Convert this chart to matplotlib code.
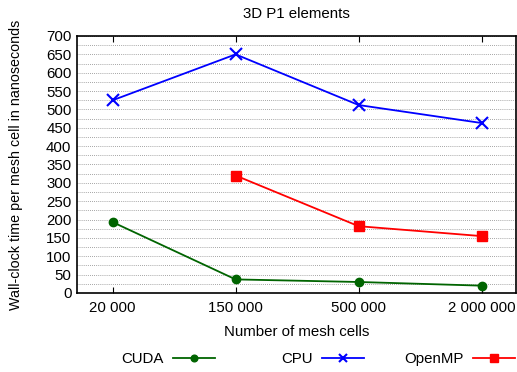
import numpy as np
import matplotlib
matplotlib.use('Agg')
import matplotlib.pyplot as plt
from matplotlib.ticker import MultipleLocator

plt.rcParams['font.family'] = ['Liberation Sans', 'DejaVu Sans']
plt.rcParams['font.size'] = 10.8

mesh_cells = ['20 000', '150 000', '500 000', '2 000 000']
cuda = [193, 37, 30, 20]
cpu = [525, 650, 512, 463]
openmp = [np.nan, 320, 182, 155]

x = np.arange(len(mesh_cells))

W, H = 517, 372
fig = plt.figure(figsize=(W / 100, H / 100), dpi=100)
ax = fig.add_axes([77 / W, 1 - 293 / H, 440 / W - 0.002, 257 / H])

l_cuda, = ax.plot(x, cuda, color='#006400', lw=1.3, marker='o', ms=6, label='CUDA')
l_cpu, = ax.plot(x, cpu, color='#0000ff', lw=1.3, marker='x', ms=8, mew=1.5, label='CPU')
l_omp, = ax.plot(x, openmp, color='#ff0000', lw=1.3, marker='s', ms=7, label='OpenMP')

ax.set_xlim(-0.29, 3.28)
ax.set_ylim(0, 700)
ax.set_xticks(x)
ax.set_xticklabels(mesh_cells)
ax.yaxis.set_major_locator(MultipleLocator(50))
ax.yaxis.set_minor_locator(MultipleLocator(25))
ax.grid(True, axis='y', which='both', color='#888888', linestyle=(0, (1, 1.5)), lw=0.6)
ax.tick_params(axis='x', direction='in', top=True, length=4, pad=6)
ax.tick_params(axis='y', which='both', length=0, pad=4)
for s in ax.spines.values():
    s.set_linewidth(1.2)

ax.set_title('3D P1 elements', fontsize=10.8, pad=13)
ax.set_xlabel('Number of mesh cells', labelpad=7)
ax.set_ylabel('Wall-clock time per mesh cell in nanoseconds', fontsize=10.3)
ax.yaxis.set_label_coords(-0.123, 0.5)

# gnuplot-style key: right-aligned text followed by the sample, one per column
for handle, x_end in [(l_cuda, 215), (l_cpu, 364), (l_omp, 515)]:
    fig.legend(handles=[handle], loc='center right', bbox_to_anchor=(x_end / W, 1 - 359 / H),
               frameon=False, markerfirst=False, borderpad=0, borderaxespad=0,
               handlelength=2.8, handletextpad=0.6, markerscale=0.8)

fig.savefig('out.png', dpi=100)
